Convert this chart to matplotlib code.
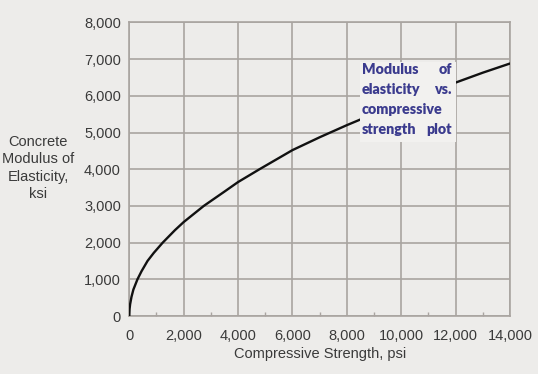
import matplotlib
matplotlib.use("Agg")
import matplotlib.pyplot as plt
from matplotlib.patches import Rectangle

# Data
strength_psi = [0, 10, 30, 80, 150, 300, 450, 670, 900, 1230, 1680, 2000, 2740, 3500,
                4000, 4790, 6000, 7000, 8000, 9000, 10000, 11000, 12000, 13000, 14000]
modulus_ksi = [0, 190, 320, 520, 720, 1000, 1220, 1500, 1720, 2000, 2340, 2560, 3000, 3390,
               3650, 4000, 4520, 4870, 5200, 5510, 5800, 6090, 6360, 6630, 6880]

x_ticks = [0, 2000, 4000, 6000, 8000, 10000, 12000, 14000]
x_tick_labels = ["0", "2,000", "4,000", "6,000", "8,000", "10,000", "12,000", "14,000"]
x_minor = [1000, 3000, 5000, 7000, 9000, 11000, 13000]
y_ticks = [0, 1000, 2000, 3000, 4000, 5000, 6000, 7000, 8000]
y_tick_labels = ["0", "1,000", "2,000", "3,000", "4,000", "5,000", "6,000", "7,000", "8,000"]

W, H = 538, 374
BG = "#edecea"
GRID = "#a9a4a0"
TXT = "#3a3a3a"
NOTE = "#3b3b8e"
FONT = "Liberation Sans"

fig = plt.figure(figsize=(W / 100, H / 100), dpi=100, facecolor=BG)
ax = fig.add_axes([129.3 / W, 1 - 316 / H, (510 - 129.3) / W, (316 - 22.4) / H])
ax.set_facecolor(BG)

ax.plot(strength_psi, modulus_ksi, color="#111111", lw=1.7, zorder=3,
        solid_joinstyle="round", solid_capstyle="round")

ax.set_xlim(0, 14000)
ax.set_ylim(0, 8000)
ax.set_xticks(x_ticks)
ax.set_xticklabels(x_tick_labels, fontfamily=FONT, fontsize=10.5)
ax.set_yticks(y_ticks)
ax.set_yticklabels(y_tick_labels, fontfamily=FONT, fontsize=10.5)
ax.set_xticks(x_minor, minor=True)
ax.grid(True, which="major", color=GRID, lw=1.2, zorder=1)
ax.tick_params(axis="both", which="major", length=0, pad=6, labelcolor=TXT)
ax.tick_params(axis="x", which="major", pad=9)
ax.tick_params(axis="x", which="minor", direction="in", length=3, color=GRID, width=1)
for s in ax.spines.values():
    s.set_color(GRID)
    s.set_linewidth(1.2)

ax.set_xlabel("Compressive Strength, psi", fontfamily=FONT, fontsize=10.5, color=TXT, labelpad=3)

fig.text(38 / W, 1 - 168 / H, "Concrete\nModulus of\nElasticity,\nksi", ha="center", va="center",
         fontfamily=FONT, fontsize=10.5, color=TXT, linespacing=1.32)

# annotation box
bx0, bx1 = 360, 456
by0, by1 = 61.5, 142
fig.patches.append(Rectangle((bx0 / W, 1 - by1 / H), (bx1 - bx0) / W, (by1 - by0) / H,
                             transform=fig.transFigure, facecolor="#f2f1ef", edgecolor="none", zorder=5))
lines = [("Modulus", "of", 70), ("elasticity", "vs.", 90), ("compressive", None, 110), ("strength", "plot", 129.5)]
for left, right, yy in lines:
    fig.text(362 / W, 1 - yy / H, left, ha="left", va="center", fontfamily="Lato", fontweight="heavy",
             fontsize=10.3, color=NOTE, zorder=6)
    if right:
        fig.text(452 / W, 1 - yy / H, right, ha="right", va="center", fontfamily="Lato", fontweight="heavy",
                 fontsize=10.3, color=NOTE, zorder=6)

fig.savefig("out.png", dpi=100, facecolor=BG)
